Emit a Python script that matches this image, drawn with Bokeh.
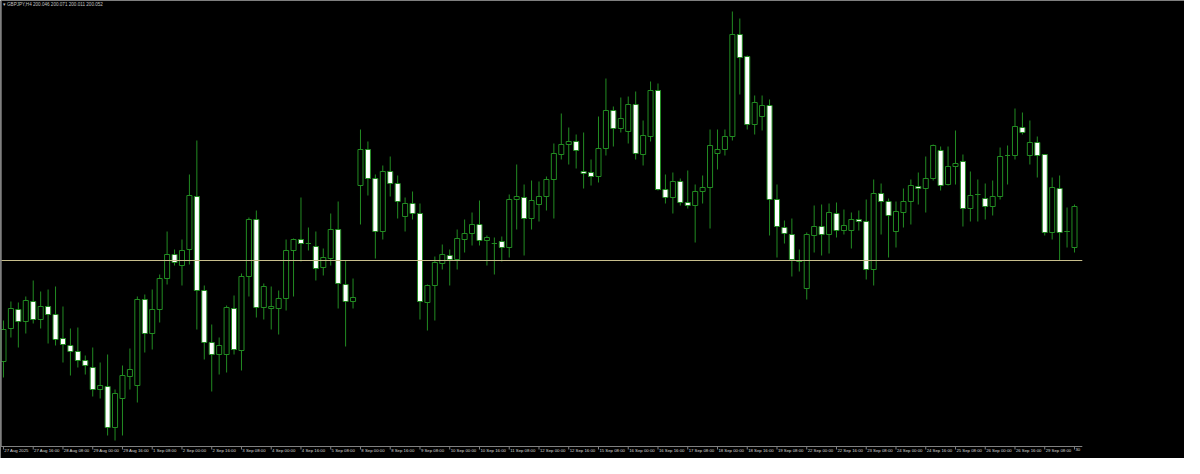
from bokeh.plotting import figure
from bokeh.models import Range1d, Label, ColumnDataSource
from bokeh.core.properties import value
from bokeh.embed import file_html
from bokeh.resources import INLINE

# ---- data (GBPJPY, H4) ----
tick_labels = ["27 Aug 2025", "27 Aug 16:00", "28 Aug 08:00", "29 Aug 00:00", "29 Aug 16:00",
               "1 Sep 08:00", "2 Sep 00:00", "2 Sep 16:00", "3 Sep 08:00", "4 Sep 00:00",
               "4 Sep 16:00", "5 Sep 08:00", "8 Sep 00:00", "8 Sep 16:00", "9 Sep 08:00",
               "10 Sep 00:00", "10 Sep 16:00", "11 Sep 08:00", "12 Sep 00:00", "12 Sep 16:00",
               "15 Sep 08:00", "16 Sep 00:00", "16 Sep 16:00", "17 Sep 08:00", "18 Sep 00:00",
               "18 Sep 16:00", "19 Sep 08:00", "22 Sep 00:00", "22 Sep 16:00", "23 Sep 08:00",
               "24 Sep 00:00", "24 Sep 16:00", "25 Sep 08:00", "26 Sep 00:00", "26 Sep 16:00",
               "29 Sep 08:00", "30"]

open_ = [198.99, 199.32, 199.51, 199.39, 199.59, 199.41, 199.54, 199.46, 199.22, 199.15,
         199.09, 199.00, 198.93, 198.71, 198.74, 198.33, 198.62, 198.84, 198.75, 199.61,
         199.27, 199.51, 199.82, 200.06, 199.95, 200.11, 200.64, 199.70, 199.18, 199.06,
         199.06, 199.52, 199.10, 199.84, 200.41, 199.53, 199.52, 199.52, 199.62, 200.10,
         200.21, 200.17, 200.14, 199.93, 200.02, 200.31, 199.76, 199.59, 200.75, 201.11,
         200.82, 200.29, 200.89, 200.77, 200.44, 200.57, 200.47, 199.58, 199.75, 199.97,
         200.05, 200.01, 200.21, 200.27, 200.36, 200.20, 200.17, 200.19, 200.13, 200.61,
         200.63, 200.42, 200.56, 200.64, 200.81, 201.06, 201.16, 201.19, 200.89, 200.88,
         200.84, 201.12, 201.50, 201.32, 201.29, 201.56, 201.06, 201.24, 201.70, 200.71,
         200.63, 200.79, 200.58, 200.55, 200.69, 200.73, 201.07, 201.11, 201.24, 202.26,
         202.04, 201.36, 201.44, 201.55, 200.61, 200.33, 200.26, 200.00, 199.72, 200.25,
         200.34, 200.26, 200.47, 200.30, 200.30, 200.41, 200.39, 199.91, 200.67, 200.59,
         200.29, 200.48, 200.59, 200.74, 200.72, 200.82, 201.10, 200.76, 200.94, 200.99,
         200.52, 200.66, 200.62, 200.54, 200.64, 201.05, 201.05, 201.33, 201.05, 201.18,
         201.06, 200.28, 200.72, 200.29, 200.13]

high = [199.40, 199.59, 199.58, 199.64, 199.80, 199.69, 199.71, 199.74, 199.54, 199.32,
        199.33, 199.05, 199.13, 198.98, 199.06, 198.71, 198.95, 199.12, 199.64, 199.66,
        199.71, 199.86, 200.29, 200.11, 200.21, 200.86, 201.20, 199.75, 199.36, 199.23,
        199.55, 199.65, 199.87, 200.43, 200.50, 199.77, 199.74, 199.70, 200.21, 200.22,
        200.63, 200.33, 200.29, 200.12, 200.47, 200.59, 200.00, 199.82, 201.31, 201.19,
        200.86, 200.95, 201.04, 200.85, 200.63, 200.69, 200.57, 199.76, 200.04, 200.16,
        200.11, 200.31, 200.41, 200.48, 200.60, 200.25, 200.23, 200.24, 200.66, 200.96,
        200.76, 200.80, 200.79, 200.84, 201.17, 201.47, 201.33, 201.26, 201.28, 201.01,
        201.44, 201.82, 201.54, 201.63, 201.64, 201.69, 201.40, 201.79, 201.77, 200.86,
        200.88, 200.82, 200.90, 200.76, 200.85, 201.31, 201.31, 201.31, 202.49, 202.42,
        202.05, 201.65, 201.65, 201.61, 200.76, 200.40, 200.42, 200.11, 200.28, 200.55,
        200.56, 200.57, 200.58, 200.51, 200.48, 200.50, 200.61, 200.81, 200.77, 200.62,
        200.59, 200.72, 200.81, 200.88, 201.04, 201.16, 201.14, 201.14, 201.30, 201.06,
        200.89, 200.81, 200.77, 200.80, 201.13, 201.15, 201.52, 201.48, 201.40, 201.24,
        201.06, 200.83, 200.85, 200.53, 200.56]

low = [198.83, 199.23, 199.13, 199.27, 199.37, 199.32, 199.17, 199.15, 198.98, 198.85,
       198.93, 198.86, 198.64, 198.62, 198.25, 198.20, 198.25, 198.71, 198.58, 199.08,
       199.11, 199.38, 199.76, 199.95, 199.75, 199.96, 199.31, 199.01, 198.69, 198.86,
       198.88, 199.06, 198.90, 199.64, 199.43, 199.41, 199.31, 199.26, 199.50, 199.64,
       199.99, 200.10, 199.80, 199.85, 199.95, 199.52, 199.14, 199.52, 200.36, 200.65,
       200.02, 200.21, 200.64, 200.42, 200.29, 200.41, 199.41, 199.30, 199.40, 199.91,
       199.75, 199.91, 200.08, 200.15, 200.15, 199.95, 199.86, 199.99, 200.03, 200.31,
       200.05, 200.31, 200.39, 200.50, 200.42, 201.01, 200.96, 200.92, 200.72, 200.75,
       200.78, 201.05, 201.14, 201.28, 201.17, 201.01, 200.95, 201.19, 200.70, 200.57,
       200.47, 200.55, 200.52, 200.18, 200.57, 200.32, 200.91, 201.05, 201.20, 201.66,
       201.31, 201.26, 201.30, 200.25, 200.03, 200.17, 199.84, 199.89, 199.61, 200.08,
       200.05, 200.07, 200.23, 200.26, 200.12, 200.30, 199.81, 199.75, 200.26, 200.03,
       200.13, 200.33, 200.36, 200.56, 200.48, 200.80, 200.70, 200.75, 200.76, 200.34,
       200.39, 200.39, 200.41, 200.45, 200.61, 200.76, 201.01, 201.26, 200.96, 200.83,
       200.25, 200.21, 200.00, 200.13, 200.08]

close = [199.31, 199.52, 199.39, 199.60, 199.41, 199.54, 199.46, 199.21, 199.16, 199.09,
         199.00, 198.95, 198.71, 198.75, 198.33, 198.67, 198.85, 198.91, 199.61, 199.27,
         199.51, 199.82, 200.06, 199.98, 200.10, 200.65, 199.70, 199.18, 199.06, 199.15,
         199.53, 199.11, 199.84, 200.41, 199.53, 199.74, 199.54, 199.62, 200.10, 200.21,
         200.17, 200.17, 199.92, 200.03, 200.31, 199.77, 199.59, 199.63, 201.11, 200.82,
         200.29, 200.89, 200.77, 200.59, 200.57, 200.47, 199.59, 199.75, 199.98, 200.06,
         200.01, 200.22, 200.27, 200.36, 200.20, 200.23, 200.17, 200.13, 200.61, 200.64,
         200.42, 200.60, 200.64, 200.81, 201.07, 201.16, 201.19, 201.10, 200.87, 200.84,
         201.12, 201.50, 201.32, 201.42, 201.56, 201.07, 201.25, 201.70, 200.71, 200.63,
         200.79, 200.58, 200.55, 200.69, 200.73, 201.15, 201.11, 201.24, 202.26, 202.03,
         201.36, 201.58, 201.55, 200.61, 200.34, 200.27, 200.01, 199.99, 200.26, 200.34,
         200.26, 200.48, 200.30, 200.35, 200.41, 200.39, 199.91, 200.67, 200.59, 200.45,
         200.49, 200.59, 200.75, 200.72, 200.82, 201.15, 200.75, 200.94, 200.97, 200.52,
         200.65, 200.66, 200.54, 200.64, 201.04, 201.05, 201.34, 201.28, 201.18, 201.05,
         200.28, 200.73, 200.28, 200.29, 200.54]

bid_level = 200.00
chart_bottom = 198.14          # price at the bottom edge of the price area
chart_top = 202.60             # price at the top edge of the price area
title_text = "\u25be GBPJPY,H4  200.046 200.071 200.011 200.052"

# ---- build ----
n = len(open_)
idx = list(range(n))
top = [max(o, c) for o, c in zip(open_, close)]
bottom = [min(o, c) for o, c in zip(open_, close)]
fill = ["#000000" if c >= o else "#ffffff" for o, c in zip(open_, close)]
src = ColumnDataSource(dict(x=idx, high=high, low=low, top=top, bottom=bottom, fill=fill))

x_lo, x_hi = -0.40, 158.79
px_per_price = 100.0
y_lo = chart_top - 458 / px_per_price

p = figure(width=1184, height=458, output_backend="svg", toolbar_location=None,
           x_axis_location=None, y_axis_location=None,
           x_range=Range1d(x_lo, x_hi), y_range=Range1d(y_lo, chart_top),
           min_border_left=0, min_border_top=0, min_border_right=0, min_border_bottom=0)
p.background_fill_color = "#000000"
p.border_fill_color = "#000000"
p.outline_line_color = None
p.grid.visible = False

GREEN = "#228b22"
GREY = "#808080"
p.segment(x0="x", y0="high", x1="x", y1="low", source=src, line_color=GREEN, line_width=1)
p.vbar(x="x", width=0.68, top="top", bottom="bottom", source=src,
       fill_color="fill", line_color=GREEN, line_width=1)

x_end = n - 1 + 1.05
# bid line
p.segment(x0=[x_lo], y0=[bid_level], x1=[x_end], y1=[bid_level], line_color="#c8be8c", line_width=1)
# chart border (left) and time axis line
p.segment(x0=[-0.30], y0=[chart_bottom], x1=[-0.30], y1=[chart_top], line_color=GREY, line_width=1)
p.segment(x0=[x_lo], y0=[chart_bottom], x1=[x_end], y1=[chart_bottom], line_color=GREY, line_width=1)

# time scale: ticks and left-aligned labels (MetaTrader style)
ticks = list(range(0, n, 4))
tick_len = 3 / px_per_price
p.segment(x0=ticks, y0=[chart_bottom] * len(ticks), x1=ticks,
          y1=[chart_bottom - tick_len] * len(ticks), line_color=GREY, line_width=1)
p.text(x=[t + 0.12 for t in ticks], y=[chart_bottom - 1.5 / px_per_price] * len(ticks),
       text=tick_labels, text_color="#d8d8d8", text_font=value("Liberation Sans"),
       text_font_size="4.3px", text_align="left", text_baseline="top")

p.add_layout(Label(x=-0.1, y=chart_top - 0.01, text=title_text,
                   text_color="#c0c0c0", text_font="Liberation Sans", text_font_size="4.6px",
                   text_baseline="top", text_align="left"))

open("out.html", "w").write(file_html(p, INLINE))
